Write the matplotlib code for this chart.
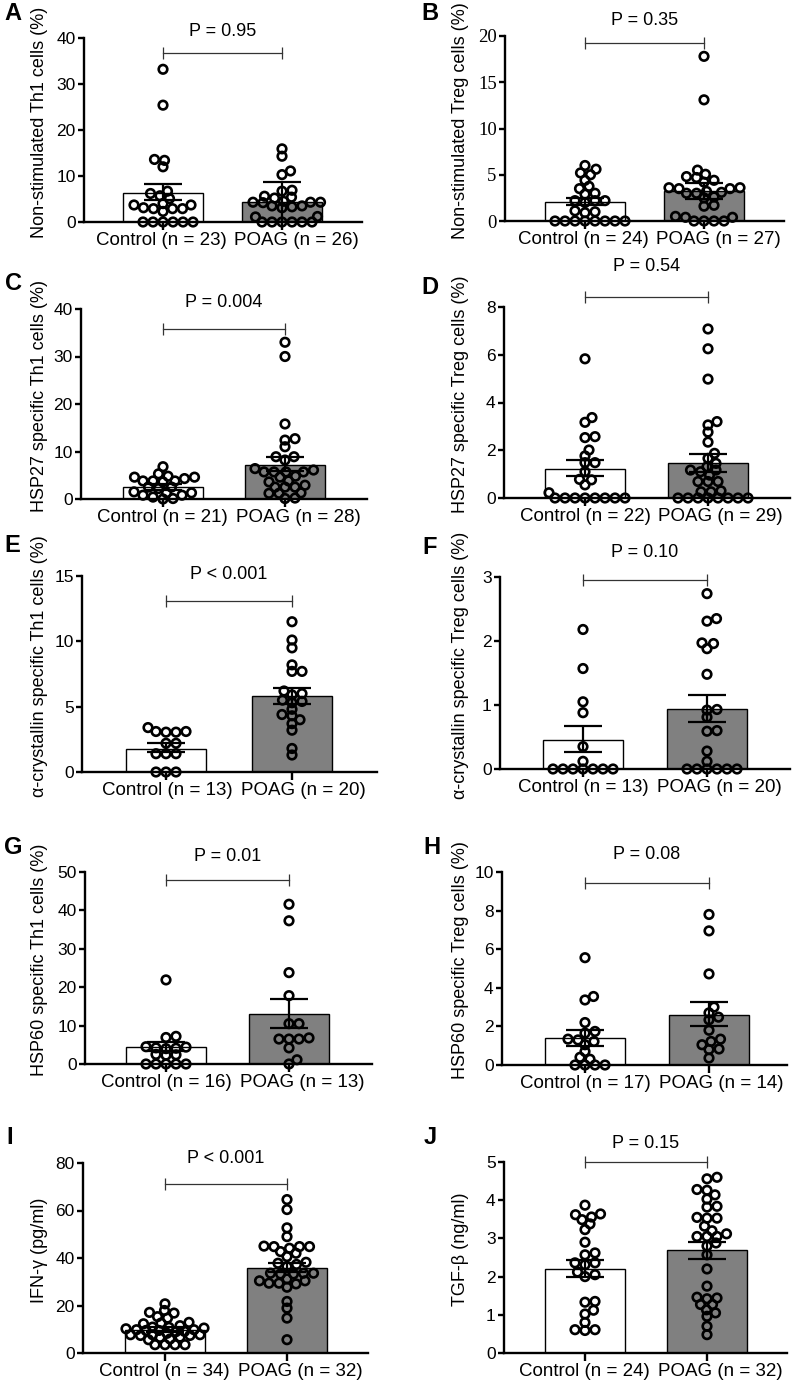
import matplotlib
matplotlib.use('Agg')
import matplotlib.pyplot as plt
import numpy as np
from matplotlib.transforms import ScaledTranslation, blended_transform_factory

plt.rcParams['font.family'] = ['Liberation Sans', 'DejaVu Sans']

# ---- data (Control, POAG) ----
a_ctrl = [33.2, 25.4, 13.4, 13.6, 12.0, 6.7, 6.2, 5.7, 5.1, 3.7, 3.7, 4.0, 2.9, 2.9, 3.1, 2.9, 2.3,
          0, 0, 0, 0, 0, 0]
a_poag = [15.9, 14.3, 11.1, 10.3, 6.9, 6.7, 5.4, 5.6, 5.2, 4.3, 4.5, 4.3, 4.3, 4.2, 3.5, 3.3, 3.1,
          3.5, 1.2, 1.1, 0, 0, 0, 0, 0, 0]
a_mean = [6.3, 4.35]
a_lo = [4.7, 0.0]
a_hi = [8.2, 8.7]

b_ctrl = [6.0, 5.6, 5.2, 5.0, 4.4, 3.75, 3.5, 3.0, 2.9, 2.2, 2.2, 2.2, 2.0, 1.1, 0.9, 1.0,
          0, 0, 0, 0, 0, 0, 0, 0]
b_poag = [17.8, 13.1, 5.5, 5.05, 4.8, 4.7, 4.4, 4.2, 3.6, 3.6, 3.5, 3.5, 3.2, 3.0, 3.0, 3.1,
          2.6, 2.5, 1.6, 1.7, 0.5, 0.4, 0.4, 0, 0, 0, 0]
b_mean = [2.06, 3.25]
b_lo = [1.7, 2.4]
b_hi = [2.5, 4.1]

c_ctrl = [6.8, 5.3, 4.8, 4.6, 4.6, 4.3, 3.8, 3.8, 3.8, 3.6, 2.5, 2.5, 2.2, 1.5, 1.3, 1.3, 0.8,
          0.8, 0.4, 0.1, 0.0]
c_poag = [33.0, 30.0, 15.8, 12.7, 12.4, 11.0, 8.9, 8.9, 8.2, 6.4, 6.1, 5.7, 5.7, 5.7, 5.7, 4.8,
          4.6, 3.8, 3.6, 2.9, 2.5, 2.5, 2.5, 1.3, 1.2, 1.2, 0.1, 0.2]
c_mean = [2.5, 7.25]
c_lo = [1.9, 5.9]
c_hi = [3.2, 8.9]

d_ctrl = [5.83, 3.37, 3.17, 2.57, 2.53, 2.01, 1.76, 1.48, 1.48, 1.1, 0.78, 0.76, 0.55, 0.22,
          0, 0, 0, 0, 0, 0, 0, 0]
d_poag = [7.08, 6.25, 4.98, 3.2, 3.06, 2.76, 2.34, 1.87, 1.66, 1.45, 1.31, 1.17, 1.17, 1.1,
          0.96, 0.69, 0.69, 0.69, 0.3, 0.26, 0.26, 0, 0, 0, 0, 0, 0, 0, 0]
d_mean = [1.23, 1.45]
d_lo = [0.94, 1.1]
d_hi = [1.6, 1.85]

e_ctrl = [3.4, 3.1, 3.05, 3.05, 3.1, 2.2, 2.2, 1.4, 1.4, 1.4, 0, 0, 0]
e_poag = [11.5, 10.1, 9.5, 8.2, 7.7, 7.7, 6.0, 6.2, 5.9, 5.5, 5.3, 5.4, 4.4, 4.8, 4.3, 4.0,
          3.7, 3.2, 1.8, 1.3]
e_mean = [1.76, 5.78]
e_lo = [1.5, 5.2]
e_hi = [2.2, 6.4]

f_ctrl = [2.18, 1.57, 1.05, 0.88, 0.35, 0.12, 0, 0, 0, 0, 0, 0, 0]
f_poag = [2.74, 2.31, 2.35, 1.97, 1.88, 1.96, 1.48, 0.92, 0.93, 0.81, 0.59, 0.6, 0.28, 0.12,
          0, 0, 0, 0, 0, 0]
f_mean = [0.46, 0.93]
f_lo = [0.27, 0.73]
f_hi = [0.67, 1.16]

g_ctrl = [21.9, 7.2, 6.9, 4.5, 4.4, 4.2, 4.1, 4.0, 2.5, 2.4, 2.3, 0, 0, 0, 0, 0]
g_poag = [41.6, 37.3, 23.8, 17.8, 10.5, 10.5, 6.5, 6.8, 6.5, 6.5, 4.2, 1.1, 0]
g_mean = [4.33, 13.0]
g_lo = [3.3, 9.5]
g_hi = [5.6, 16.9]

h_ctrl = [5.56, 3.55, 3.37, 2.2, 1.74, 1.65, 1.34, 1.3, 1.22, 1.05, 0.7, 0.4, 0.3, 0, 0, 0, 0]
h_poag = [7.8, 6.95, 4.72, 3.0, 2.7, 2.48, 2.34, 1.8, 1.34, 1.22, 1.05, 0.83, 0.8, 0.36]
h_mean = [1.39, 2.6]
h_lo = [1.0, 2.03]
h_hi = [1.82, 3.25]

i_ctrl = [20.7, 17.9, 17.1, 16.8, 15.3, 14.7, 12.9, 12.6, 12.3, 11.5, 10.8, 10.5, 10.9, 10.2,
          9.5, 9.1, 9.8, 9.8, 9.5, 9.0, 8.3, 7.4, 7.7, 6.7, 6.6, 7.7, 7.7, 7.4, 5.9, 5.6,
          3.5, 3.5, 3.5, 3.5]
i_poag = [64.6, 60.4, 52.7, 49.0, 45.0, 44.8, 44.8, 44.1, 44.8, 42.7, 42.0, 40.6, 38.2, 37.8,
          37.3, 36.4, 33.6, 33.6, 33.3, 33.6, 33.3, 31.2, 30.4, 30.4, 29.1, 29.4, 29.4, 27.7,
          21.7, 18.9, 14.7, 5.6]
i_mean = [9.8, 36.0]
i_lo = [8.8, 34.0]
i_hi = [10.8, 38.0]

j_ctrl = [3.87, 3.64, 3.62, 3.56, 3.49, 3.38, 3.23, 2.9, 2.62, 2.57, 2.36, 2.36, 2.31, 2.12,
          2.05, 2.0, 1.33, 1.35, 1.12, 1.02, 0.8, 0.59, 0.61, 0.61]
j_poag = [4.6, 4.56, 4.28, 4.26, 4.14, 4.03, 3.82, 3.84, 3.55, 3.53, 3.53, 3.32, 3.2, 3.12,
          3.05, 3.05, 3.05, 2.88, 2.8, 2.57, 2.2, 1.75, 1.46, 1.44, 1.42, 1.27, 1.27, 1.13,
          1.05, 0.96, 0.7, 0.48]
j_mean = [2.2, 2.69]
j_lo = [1.99, 2.47]
j_hi = [2.44, 2.91]

ylabels = ["Non-stimulated Th1 cells (%)", "Non-stimulated Treg cells (%)",
           "HSP27 specific Th1 cells (%)", "HSP27 specific Treg cells (%)",
           "α-crystallin specific Th1 cells (%)", "α-crystallin specific Treg cells (%)",
           "HSP60 specific Th1 cells (%)", "HSP60 specific Treg cells (%)",
           "IFN-γ (pg/ml)", "TGF-β (ng/ml)"]
pvals = ["P = 0.95", "P = 0.35", "P = 0.004", "P = 0.54", "P < 0.001",
         "P = 0.10", "P = 0.01", "P = 0.08", "P < 0.001", "P = 0.15"]
n_ctrl = [23, 24, 21, 22, 13, 13, 16, 17, 34, 24]
n_poag = [26, 27, 28, 29, 20, 20, 13, 14, 32, 32]
ymax = [40, 20, 40, 8, 15, 3, 50, 10, 80, 5]
ystep = [10, 5, 10, 2, 5, 1, 10, 2, 20, 1]
letters = list("ABCDEFGHIJ")

groups = [(a_ctrl, a_poag, a_mean, a_lo, a_hi), (b_ctrl, b_poag, b_mean, b_lo, b_hi),
          (c_ctrl, c_poag, c_mean, c_lo, c_hi), (d_ctrl, d_poag, d_mean, d_lo, d_hi),
          (e_ctrl, e_poag, e_mean, e_lo, e_hi), (f_ctrl, f_poag, f_mean, f_lo, f_hi),
          (g_ctrl, g_poag, g_mean, g_lo, g_hi), (h_ctrl, h_poag, h_mean, h_lo, h_hi),
          (i_ctrl, i_poag, i_mean, i_lo, i_hi), (j_ctrl, j_poag, j_mean, j_lo, j_hi)]

# ---- layout in pixels: axis left, right, top, bottom, bar centres ----
W, H = 794, 1384
boxes = [(84, 362, 38, 222, 163, 282), (505, 784, 36, 221, 585, 704),
         (81, 367, 309, 499, 163, 285), (504, 790, 307, 498, 585, 708),
         (82, 377, 576, 772, 166, 292), (500, 790, 577, 769, 583, 707),
         (85, 372, 872, 1064, 166, 289), (502, 787, 872, 1065, 585, 709),
         (83, 368, 1163, 1353, 165, 287), (504, 787, 1162, 1353, 585, 707)]
bracket_y = [36.7, 19.2, 35.7, 8.43, 13.1, 2.95, 47.9, 9.41, 71, 4.99]
ptext_y = [41.4, 21.7, 41.4, 9.7, 15.1, 3.38, 54, 10.9, 82, 5.49]
letter_pos = [(13, 13), (430, 13), (13, 283), (430, 287), (12, 545), (430, 547),
              (13, 848), (432, 848), (10, 1137), (430, 1138)]

fig = plt.figure(figsize=(W / 100, H / 100), dpi=100)


def swarm(ax, xc, vals, dx=10.0, dy=6.5, maxw=40.0):
    # put each point as close to the centre line as possible; if the band is
    # full, take the least crowded spot inside it
    vals = np.asarray(vals, dtype=float)
    pts = ax.transData.transform(np.column_stack([np.full(len(vals), xc), vals]))
    cands = np.arange(-maxw, maxw + 0.25, 0.5)
    cands = cands[np.argsort(np.abs(cands) + (cands < 0) * 0.01, kind='stable')]
    placed_x, placed_y = [], []
    xout = np.empty(len(vals))
    for i in np.argsort(vals, kind='stable'):
        y = pts[i, 1]
        if placed_x:
            px = np.array(placed_x)
            py = np.array(placed_y)
            dist = ((cands[:, None] - px[None, :]) / dx) ** 2 + ((y - py[None, :]) / dy) ** 2
            mind = dist.min(axis=1)
            ok = np.nonzero(mind >= 1)[0]
            off = cands[ok[0]] if len(ok) else cands[np.argmax(mind)]
        else:
            off = 0.0
        placed_x.append(off)
        placed_y.append(y)
        xout[i] = pts[i, 0] + off
    return ax.transData.inverted().transform(np.column_stack([xout, pts[:, 1]]))[:, 0]


for k in range(10):
    l, r, t, b, c0, c1 = boxes[k]
    ax = fig.add_axes([l / W, 1 - b / H, (r - l) / W, (b - t) / H])
    sp = c1 - c0
    ax.set_xlim((l - c0) / sp, 1 + (r - c1) / sp)
    ax.set_ylim(0, ymax[k])
    ctrl, poag, mean, lo, hi = groups[k]

    ax.bar([0, 1], mean, width=80 / sp, color=['white', '#808080'],
           edgecolor='black', linewidth=1.0, zorder=2)
    for xc, vals in ((0, ctrl), (1, poag)):
        xs = swarm(ax, xc, vals)
        ax.scatter(xs, vals, s=38, facecolors='none', edgecolors='black',
                   linewidths=1.9, zorder=4, clip_on=False)
    yerr = [[mean[0] - lo[0], mean[1] - lo[1]], [hi[0] - mean[0], hi[1] - mean[1]]]
    ax.errorbar([0, 1], mean, yerr=yerr, fmt='none', ecolor='black', elinewidth=1.6,
                capsize=14, capthick=1.6, zorder=5, clip_on=False)

    # significance bracket
    ax.plot([0, 1], [bracket_y[k]] * 2, color='#333333', lw=0.9, clip_on=False, zorder=6)
    ax.plot([0, 1], [bracket_y[k]] * 2, ls='none', marker='|', ms=8, mew=0.9,
            color='#333333', clip_on=False, zorder=6)
    ax.text(0.5, ptext_y[k], pvals[k], ha='center', va='center', fontsize=13)

    for s in ('top', 'right'):
        ax.spines[s].set_visible(False)
    for s in ('left', 'bottom'):
        ax.spines[s].set_linewidth(1.7)
    ax.set_yticks(np.arange(0, ymax[k] + ystep[k] / 2, ystep[k]))
    ax.set_xticks([0, 1])
    ax.set_xticklabels(['', ''])
    ax.tick_params(axis='y', length=4, width=1.7, pad=2, labelsize=12.5)
    ax.tick_params(axis='x', length=6, width=1.7)
    if k == 1:
        for lab in ax.get_yticklabels():
            lab.set_family('Liberation Serif')
            lab.set_fontsize(13.5)

    # group labels pushed apart around the midpoint
    tr = blended_transform_factory(ax.transData, ax.transAxes)
    ax.text(0.5, 0, "Control (n = %d)" % n_ctrl[k], ha='right', va='top', fontsize=13.5,
            transform=tr + ScaledTranslation(4 / 100, -10 / 100, fig.dpi_scale_trans))
    ax.text(0.5, 0, "POAG (n = %d)" % n_poag[k], ha='left', va='top', fontsize=13.5,
            transform=tr + ScaledTranslation(12 / 100, -10 / 100, fig.dpi_scale_trans))

    lx = 40 if k % 2 == 0 else 460
    fig.text(lx / W, 1 - ((t + b) / 2 - 8) / H, ylabels[k], rotation=90,
             ha='center', va='center', fontsize=13)
    px, py = letter_pos[k]
    fig.text(px / W, 1 - py / H, letters[k], ha='center', va='center',
             fontsize=17, fontweight='bold')

fig.savefig('out.png', dpi=100)
